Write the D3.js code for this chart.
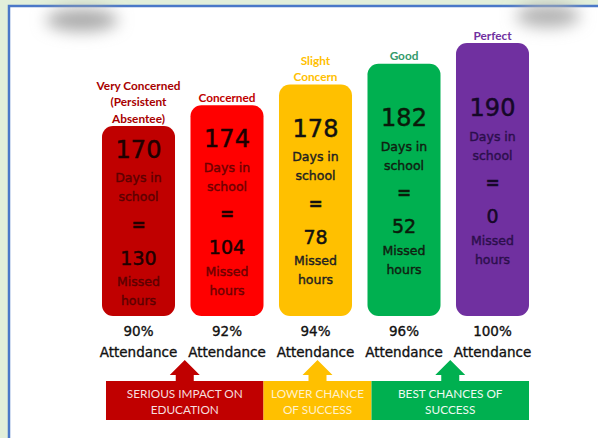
<!DOCTYPE html>
<html>
<head>
<meta charset="utf-8">
<script src="https://cdn.jsdelivr.net/npm/d3@7/dist/d3.min.js"></script>
<style>
  html, body { margin: 0; padding: 0; background: #e2efda; }
  svg { display: block; }
</style>
</head>
<body>
<svg id="chart" width="598" height="438"></svg>
<script>
// ---- data ----
const categoryLines = [
  ["Very Concerned", "(Persistent", "Absentee)"],
  ["Concerned"],
  ["Slight", "Concern"],
  ["Good"],
  ["Perfect"]
];
const daysInSchool = [170, 174, 178, 182, 190];
const missedHours = [130, 104, 78, 52, 0];
const attendance = [90, 92, 94, 96, 100];
const bannerLabels = [
  ["SERIOUS IMPACT ON", "EDUCATION"],
  ["LOWER CHANCE", "OF SUCCESS"],
  ["BEST CHANCES OF", "SUCCESS"]
];
const bannerFrom = [0, 1, 3];
const bannerTo = [1, 3, 4];

// ---- styles ----
const barColors = ["#c00000", "#ff0000", "#ffc000", "#00b050", "#7030a0"];
const titleColors = ["#a80000", "#c00000", "#ffc000", "#339a6a", "#7030a0"];
const numColors = ["#200000", "#1a0000", "#111111", "#0a1a0a", "#160828"];
const subColors = ["#5c0000", "#6e0000", "#222222", "#102010", "#2c0f4c"];
const bannerColors = ["#c00000", "#ffc000", "#00b050"];
const bannerTextColors = ["#f6dede", "#fff1cc", "#eefaf2"];

const svg = d3.select("#chart");

// panel
svg.append("rect").attr("x", 0).attr("y", 0).attr("width", 598).attr("height", 438).attr("fill", "#e2efda");
svg.append("rect").attr("x", 9).attr("y", 6).attr("width", 620).attr("height", 460)
  .attr("fill", "#ffffff").attr("stroke", "#4a78c8").attr("stroke-width", 2.5);

// blurred smudges
const defs = svg.append("defs");
defs.append("filter").attr("id", "blur").attr("x", "-60%").attr("y", "-150%").attr("width", "220%").attr("height", "400%")
  .append("feGaussianBlur").attr("stdDeviation", 8);
svg.append("ellipse").attr("cx", 82).attr("cy", 20).attr("rx", 36).attr("ry", 11)
  .attr("fill", "#a8a8a8").attr("filter", "url(#blur)");
svg.append("ellipse").attr("cx", 548).attr("cy", 16).attr("rx", 32).attr("ry", 11)
  .attr("fill", "#b0b0b0").attr("filter", "url(#blur)");

// scales
const idx = d3.range(daysInSchool.length);
const x = d3.scaleBand().domain(idx).range([94.25, 536.75]).paddingInner(0.175).paddingOuter(0.0875);
const yTop = d3.scaleLinear().domain([0, idx.length - 1]).range([126, 43]);
const yBottom = 316;
const bw = x.bandwidth();

// bars
svg.selectAll("rect.bar").data(idx).join("rect")
  .attr("class", "bar")
  .attr("x", i => x(i))
  .attr("y", i => yTop(i))
  .attr("width", bw)
  .attr("height", i => yBottom - yTop(i))
  .attr("rx", 11).attr("ry", 11)
  .attr("fill", i => barColors[i]);

// titles above bars
idx.forEach(i => {
  const lines = categoryLines[i];
  const cx = x(i) + bw / 2;
  const lh = 16.5;
  lines.forEach((t, k) => {
    svg.append("text")
      .attr("x", cx)
      .attr("y", yTop(i) - 8 - (lines.length - 1 - k) * lh)
      .attr("text-anchor", "middle")
      .attr("dominant-baseline", "central")
      .attr("font-family", "Lato, 'Open Sans', sans-serif")
      .attr("font-weight", "bold")
      .attr("font-size", 11.8)
      .attr("fill", titleColors[i])
      .text(t);
  });
});

// texts inside bars
const innerOffsets = [0, 28, 47, 75, 108, 132, 151];
idx.forEach(i => {
  const cx = x(i) + bw / 2;
  const mid = (yTop(i) + yBottom) / 2 + 4;
  const start = mid - 75.5;
  const items = [
    { t: String(daysInSchool[i]), big: true },
    { t: "Days in" }, { t: "school" },
    { t: "=", eq: true },
    { t: String(missedHours[i]), big: true, small: true },
    { t: "Missed" }, { t: "hours" }
  ];
  items.forEach((it, k) => {
    const col = it.big || it.eq ? numColors[i] : subColors[i];
    svg.append("text")
      .attr("x", cx)
      .attr("y", start + innerOffsets[k])
      .attr("text-anchor", "middle")
      .attr("dominant-baseline", "central")
      .attr("font-family", "'DejaVu Sans', sans-serif")
      .attr("font-size", it.big ? (it.small ? 19 : 24) : (it.eq ? 17 : 12.5))
      .attr("font-weight", it.eq ? "bold" : "normal")
      .attr("fill", col)
      .attr("stroke", col)
      .attr("stroke-width", it.big ? 0.5 : 0.4)
      .text(it.t);
  });
});

// attendance labels
idx.forEach(i => {
  const cx = x(i) + bw / 2;
  [[attendance[i] + "%", 331], ["Attendance", 352]].forEach(([t, yy]) => {
    svg.append("text").attr("x", cx).attr("y", yy)
      .attr("text-anchor", "middle").attr("dominant-baseline", "central")
      .attr("font-family", "'DejaVu Sans', sans-serif").attr("font-size", 13.5)
      .attr("fill", "#111").attr("stroke", "#111").attr("stroke-width", 0.35)
      .text(t);
  });
});

// banner
const segStart = [x(bannerFrom[0]) + 4, x(bannerFrom[1]) + bw, x(bannerFrom[2]) + 4];
const segEnd = [x(bannerTo[0]) + bw, x(bannerTo[1]) + 4, x(bannerTo[2]) + bw];
const bTop = 381, bBot = 420;
bannerLabels.forEach((lines, j) => {
  const s = segStart[j], e = segEnd[j], c = (s + e) / 2;
  svg.append("rect").attr("x", s).attr("y", bTop).attr("width", e - s).attr("height", bBot - bTop)
    .attr("fill", bannerColors[j]);
  // arrow
  const path = d3.path();
  path.moveTo(c, 360);
  path.lineTo(c + 15, 375);
  path.lineTo(c + 9, 375);
  path.lineTo(c + 9, bTop + 0.5);
  path.lineTo(c - 9, bTop + 0.5);
  path.lineTo(c - 9, 375);
  path.lineTo(c - 15, 375);
  path.closePath();
  svg.append("path").attr("d", path.toString()).attr("fill", bannerColors[j]);
  lines.forEach((t, k) => {
    svg.append("text").attr("x", c).attr("y", 393 + k * 16)
      .attr("text-anchor", "middle").attr("dominant-baseline", "central")
      .attr("font-family", "Lato, 'Open Sans', sans-serif").attr("font-size", 11.8)
      .attr("fill", bannerTextColors[j]).text(t);
  });
});
</script>
</body>
</html>
